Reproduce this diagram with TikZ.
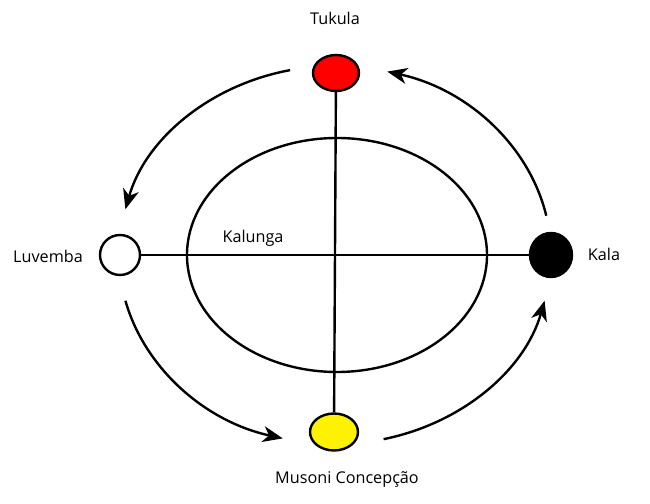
\documentclass[tikz,border=0pt]{standalone}
\usepackage{fontspec}
\setmainfont{Open Sans}
\usetikzlibrary{arrows.meta,shapes.geometric}

\begin{document}
\begin{tikzpicture}[x=0.5pt, y=0.5pt, font=\fontsize{8.1}{10}\selectfont, line width=1.2pt, dot/.style={draw, ellipse, inner sep=0pt}, lbl/.style={inner sep=0pt}, cyc/.style={-{Stealth[length=10pt, width=8pt, inset=3pt]}}]
\useasboundingbox (0,0) rectangle (650,504);
\node[draw, ellipse, minimum width=150pt, minimum height=117pt] (kalunga) at (337,249) {};
\node[lbl] (kalungalbl) at (253,266) {Kalunga};
\node[dot, fill=red, minimum width=23pt, minimum height=18pt] (tukula) at (336,431) {};
\node[dot, fill=yellow, minimum width=24pt, minimum height=18.5pt] (musoni) at (334,72) {};
\node[dot, fill=white, minimum width=20pt, minimum height=20pt] (luvemba) at (120,249) {};
\node[dot, fill=black, minimum width=21pt, minimum height=22pt] (kala) at (551,249) {};
\node[lbl] (tukulalbl) at (335,486) {Tukula};
\node[lbl] (luvembalbl) at (48,248) {Luvemba};
\node[lbl] (kalalbl) at (604,250) {Kala};
\node[lbl] (musonilbl) at (347,24) {Musoni Concepção};
\draw (tukula) -- (musoni); \draw (luvemba) -- (kala);
\coordinate (ctr) at (335,249);
\path (ctr) ++(102:216 and 189) coordinate (tl);
\path (ctr) ++(12:216 and 189) coordinate (tr);
\path (ctr) ++(194:216 and 189) coordinate (bl);
\path (ctr) ++(283:216 and 189) coordinate (br);
\draw[cyc] (tl) arc[start angle=102, end angle=166, x radius=108pt, y radius=94.5pt];
\draw[cyc] (tr) arc[start angle=12, end angle=76, x radius=108pt, y radius=94.5pt];
\draw[cyc] (bl) arc[start angle=194, end angle=256, x radius=108pt, y radius=94.5pt];
\draw[cyc] (br) arc[start angle=283, end angle=346, x radius=108pt, y radius=94.5pt];
\end{tikzpicture}
\end{document}
